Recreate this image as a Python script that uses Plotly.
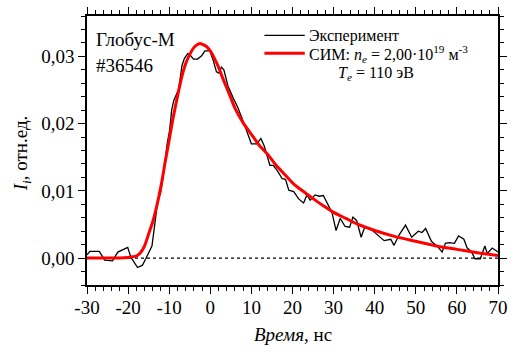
import plotly.graph_objects as go

# Experimental signal (time, ns ; intensity, rel. units)
exp_t = [-30, -29.3, -27.0, -25.7, -23.8, -22.5, -20.1, -19.3, -17.7, -16.5, -15.7, -14.2, -13.3, -12.9,
         -12.1, -11.5, -10.5, -9.9, -9.4, -8.9, -7.7, -6.9, -6.3, -5.5, -4.9, -4.1, -3.1, -2.1, -1.3, -0.1,
         0.7, 1.5, 2.1, 2.7, 3.3, 4.3, 5.5, 6.7, 7.9, 9.1, 10.0, 11.3, 12.3, 13.1, 13.7, 14.5, 15.3, 16.3,
         17.5, 18.3, 19.1, 20.3, 21.5, 22.7, 23.5, 24.3, 25.5, 26.5, 27.5, 28.5, 29.6, 30.6, 31.6, 32.8,
         33.9, 34.7, 35.6, 36.7, 37.5, 38.7, 39.6, 40.6, 42.3, 43.9, 44.7, 46.0, 47.5, 49.0, 50.6, 51.5,
         52.4, 53.8, 55.3, 56.4, 57.2, 58.2, 59.4, 60.4, 61.7, 62.5, 63.5, 64.4, 65.7, 66.8, 67.4, 68.6, 70.0]
exp_v = [0.0005, 0.001, 0.001, -0.0003, -0.0004, 0.0009, 0.0016, 0.0001, -0.0014, -0.00105, -0.0001, 0.0018,
         0.006, 0.0083, 0.0097, 0.012, 0.017, 0.019, 0.022, 0.0234, 0.0251, 0.0286, 0.0297, 0.0304, 0.0302,
         0.0296, 0.0296, 0.0301, 0.0308, 0.0308, 0.0294, 0.0277, 0.0275, 0.0284, 0.0280, 0.0256, 0.0239,
         0.0224, 0.0205, 0.0186, 0.0170, 0.0170, 0.0178, 0.0167, 0.0155, 0.0138, 0.0138, 0.0130, 0.0118,
         0.0117, 0.0101, 0.0099, 0.0088, 0.0082, 0.0094, 0.0086, 0.0094, 0.0092, 0.0093, 0.0082, 0.0068,
         0.0041, 0.0059, 0.0047, 0.0046, 0.0061, 0.0056, 0.0031, 0.0045, 0.0045, 0.0040, 0.0035, 0.0026,
         0.0028, 0.0019, 0.0035, 0.0049, 0.0031, 0.0040, 0.0038, 0.0044, 0.0025, 0.0017, 0.0009, 0.0022,
         0.0023, 0.0022, 0.0033, 0.0028, 0.0015, 0.0010, -0.0001, -0.0001, 0.0018, 0.0007, 0.0015, 0.0009]

# Simulation (СИМ)
sim_t = [-30, -24, -22, -20, -19, -18, -17, -16, -15, -14, -13, -12, -11, -10, -9, -8, -7, -6, -5, -4, -3,
         -2.5, -2, -1, 0, 1, 2, 3, 4, 5, 6, 8, 10, 12, 14, 16, 18, 20, 22, 24, 26, 28, 30, 33, 36, 40, 45,
         50, 55, 60, 65, 70]
sim_v = [0.0, 0.0, 0.00002, 0.0001, 0.0002, 0.0003, 0.0008, 0.0018, 0.0036, 0.0054, 0.0078, 0.0107, 0.0142,
         0.0176, 0.0210, 0.0240, 0.0268, 0.0289, 0.0303, 0.0313, 0.0318, 0.0319, 0.0318, 0.0315, 0.0308,
         0.0297, 0.0284, 0.0268, 0.0253, 0.0238, 0.0223, 0.0201, 0.0184, 0.0167, 0.0154, 0.0138, 0.0125,
         0.0112, 0.0102, 0.0093, 0.0084, 0.0076, 0.0068, 0.0059, 0.0050, 0.0041, 0.0032, 0.0025, 0.0018,
         0.0013, 0.0008, 0.0004]

x_ticks = [-30, -20, -10, 0, 10, 20, 30, 40, 50, 60, 70]
x_ticktext = ["-30", "-20", "-10", "0", "10", "20", "30", "40", "50", "60", "70"]
y_ticks = [0.0, 0.01, 0.02, 0.03]

FONT = "Times New Roman, Liberation Serif, DejaVu Serif, serif"

fig = go.Figure()
fig.add_trace(go.Scatter(x=exp_t, y=exp_v, mode="lines",
                         line=dict(color="black", width=1.3), showlegend=False))
fig.add_trace(go.Scatter(x=sim_t, y=sim_v, mode="lines",
                         line=dict(color="#ff0000", width=3, shape="spline", smoothing=0.6),
                         showlegend=False))

# zero reference line
fig.add_shape(type="line", xref="x", yref="y", x0=-30, x1=70, y0=0, y1=0,
              line=dict(color="black", width=1.2, dash="dot"), layer="below")

# legend samples
fig.add_shape(type="line", xref="paper", yref="paper", x0=0.4317, x1=0.5299, y0=0.928, y1=0.928,
              line=dict(color="black", width=1.3))
fig.add_shape(type="line", xref="paper", yref="paper", x0=0.4317, x1=0.5299, y0=0.8615, y1=0.8615,
              line=dict(color="#ff0000", width=3))

ann = [
    dict(text="Глобус-М", x=0.017, y=0.914, xanchor="left", yanchor="middle", font=dict(size=19)),
    dict(text="#36546", x=0.017, y=0.817, xanchor="left", yanchor="middle", font=dict(size=19)),
    dict(text="Эксперимент", x=0.535, y=0.924, xanchor="left", yanchor="middle", font=dict(size=16)),
    dict(text="СИМ: <i>n</i><sub><i>e</i></sub> = 2,00·10<sup>19</sup> м<sup>-3</sup>", x=0.535, y=0.858,
         xanchor="left", yanchor="middle", font=dict(size=16)),
    dict(text="<i>T</i><sub><i>e</i></sub> = 110 эВ", x=0.607, y=0.785, xanchor="left", yanchor="middle",
         font=dict(size=16)),
    dict(text="<i>Время</i>, нс", x=0.5, y=-0.185, xanchor="center", yanchor="middle", font=dict(size=19)),
    dict(text="<i>I</i><sub><i>i</i></sub>, отн.ед.", x=-0.158, y=0.49, xanchor="center", yanchor="middle",
         textangle=-90, font=dict(size=19)),
]
for a in ann:
    a.update(xref="paper", yref="paper", showarrow=False)
    a["font"].update(family=FONT, color="black")
    fig.add_annotation(**a)

axis_common = dict(showline=True, linecolor="black", linewidth=1.5, mirror="ticks", ticks="outside",
                   tickcolor="black", tickwidth=1.2, ticklen=7, showgrid=False, zeroline=False,
                   tickfont=dict(family=FONT, size=19, color="black"))

fig.update_xaxes(range=[-30, 70], tickvals=x_ticks, ticktext=x_ticktext, ticklabelstandoff=-3,
                 minor=dict(dtick=2, tick0=0, ticks="outside", ticklen=4, tickcolor="black", tickwidth=1.2,
                            showgrid=False),
                 **axis_common)
fig.update_yaxes(range=[-0.004, 0.036], tickvals=y_ticks, tickformat=".2f",
                 minor=dict(dtick=0.002, tick0=0, ticks="outside", ticklen=4, tickcolor="black", tickwidth=1.2,
                            showgrid=False),
                 **axis_common)

fig.update_layout(width=515, height=347, margin=dict(l=87, r=11, t=7, b=62),
                  plot_bgcolor="white", paper_bgcolor="white", separators=", ",
                  font=dict(family=FONT, color="black"))

fig.write_html("out.html")
